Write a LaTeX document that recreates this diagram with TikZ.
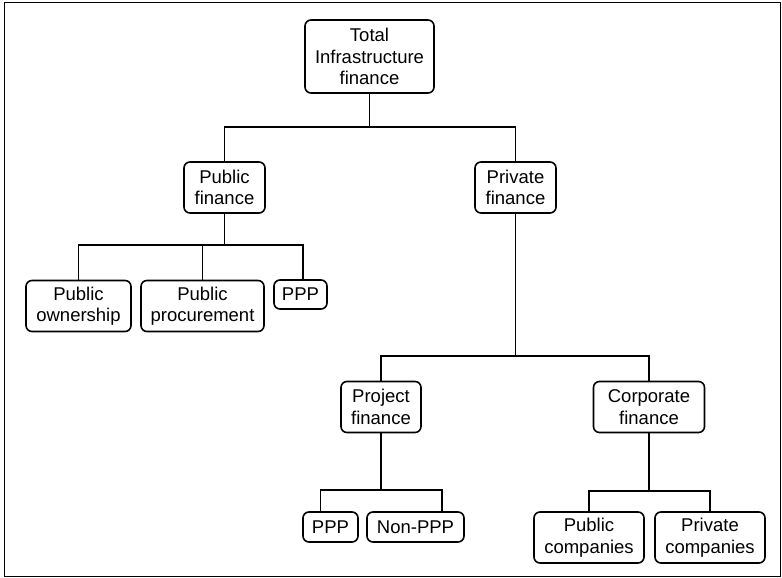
\documentclass[tikz,border=0pt]{standalone}
\usepackage{fontspec}
\setmainfont{Liberation Sans}
\begin{document}
\begin{tikzpicture}[x=1pt,y=-1pt,
  box/.style={draw, line width=1.6pt, rounded corners=6pt, inner sep=0pt, align=center,
    font=\fontsize{18.5}{21.5}\selectfont},
  conn/.style={line width=1.6pt}]
\useasboundingbox (0,0) rectangle (782,578);
\draw[line width=1.4pt] (4.5,2.5) rectangle (780.5,576.5);

\node[box, minimum width=129pt, minimum height=73pt] (total) at (369.5,56.5) {Total\\Infrastructure\\finance};
\node[box, minimum width=81pt, minimum height=51pt] (pubf) at (224.5,187.5) {Public\\finance};
\node[box, minimum width=81pt, minimum height=51pt] (privf) at (515.5,187.5) {Private\\finance};
\node[box, minimum width=105pt, minimum height=51pt] (own) at (78.5,306) {Public\\ownership};
\node[box, minimum width=123pt, minimum height=51pt] (proc) at (202.5,306) {Public\\procurement};
\node[box, minimum width=53pt, minimum height=29pt] (pppa) at (300.5,294.5) {PPP};
\node[box, minimum width=80pt, minimum height=51pt] (projf) at (381,407) {Project\\finance};
\node[box, minimum width=111pt, minimum height=51pt] (corpf) at (649,407) {Corporate\\finance};
\node[box, minimum width=55pt, minimum height=30pt] (pppb) at (330.5,527) {PPP};
\node[box, minimum width=97pt, minimum height=30pt] (nonppp) at (415.5,527) {Non-PPP};
\node[box, minimum width=110pt, minimum height=51pt] (pubco) at (589,537.5) {Public\\companies};
\node[box, minimum width=110pt, minimum height=51pt] (privco) at (710,537.5) {Private\\companies};

% level 1
\coordinate (b1) at (369.5,127);
\draw[conn] (total.south) -- (b1);
\draw[conn] (pubf.north) -- (pubf.north |- b1) -- (privf.north |- b1) -- (privf.north);

% public finance
\coordinate (b2) at (224.5,245);
\coordinate (pppaTop) at ([xshift=2.5pt]pppa.north);
\draw[conn] (pubf.south) -- (b2);
\draw[conn] (own.north) -- (own.north |- b2) -- (pppaTop |- b2) -- (pppaTop);
\draw[conn] (proc.north) -- (proc.north |- b2);

% private finance
\coordinate (b3) at (515.5,356);
\draw[conn] (privf.south) -- (b3);
\draw[conn] (projf.north) -- (projf.north |- b3) -- (corpf.north |- b3) -- (corpf.north);

% project finance
\coordinate (b4) at (381,490);
\coordinate (pppbTop) at ([xshift=-10pt]pppb.north);
\coordinate (nonTop) at ([xshift=26.5pt]nonppp.north);
\draw[conn] (projf.south) -- (b4);
\draw[conn] (pppbTop) -- (pppbTop |- b4) -- (nonTop |- b4) -- (nonTop);

% corporate finance
\coordinate (b5) at (649,491);
\draw[conn] (corpf.south) -- (b5);
\draw[conn] (pubco.north) -- (pubco.north |- b5) -- (privco.north |- b5) -- (privco.north);
\end{tikzpicture}
\end{document}
